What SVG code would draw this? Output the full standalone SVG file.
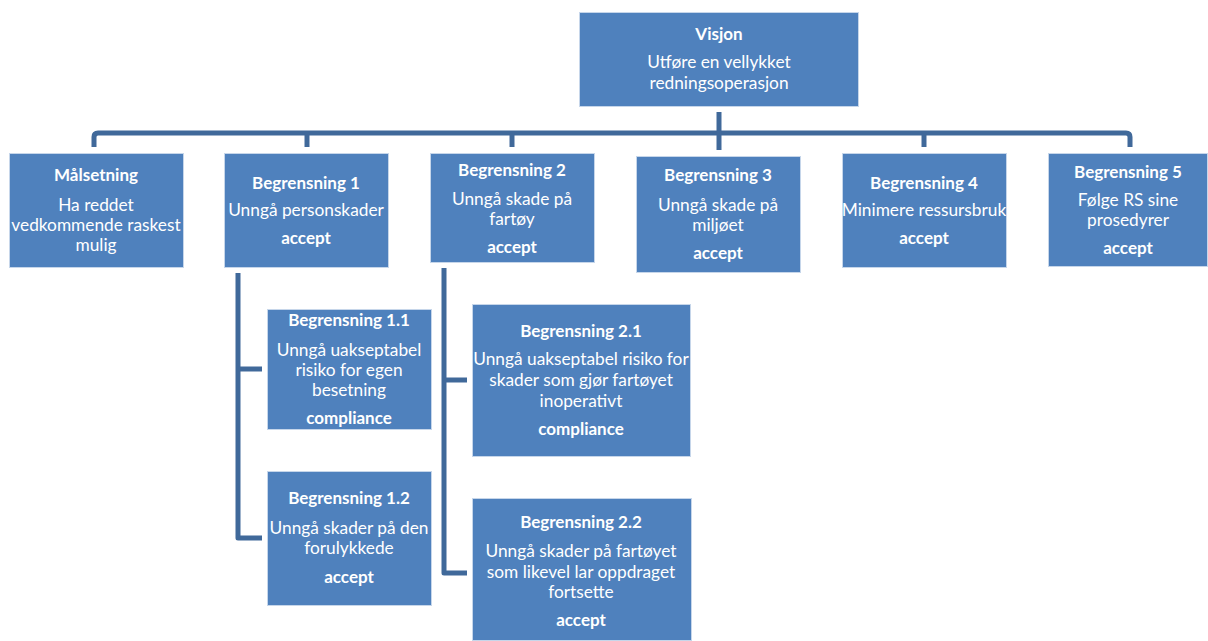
<svg xmlns="http://www.w3.org/2000/svg" width="1208" height="641" viewBox="0 0 1208 641">
  <style>
    .box { fill: #4F81BD; stroke: #C6D6EA; stroke-width: 1; }
    .t { font-family: Lato, "Liberation Sans", sans-serif; font-size: 17.3px; fill: #FFFFFF; text-anchor: middle; }
    .b { font-weight: bold; font-size: 17px; }
    .link { fill: none; stroke: #40699A; stroke-width: 5; stroke-linejoin: round; }
  </style>
  <rect width="1208" height="641" fill="#FFFFFF"/>

  <!-- connectors -->
  <g id="connectors">
    <path class="link" d="M94,147 V137 Q94,133 98,133 H1126 Q1130,133 1130,137 V147"/>
    <path class="link" d="M719,112 V150"/>
    <path class="link" d="M307,133 V147"/>
    <path class="link" d="M512,133 V147"/>
    <path class="link" d="M924,133 V147"/>
    <path class="link" d="M238,273 V538 H262"/>
    <path class="link" d="M238,369 H262"/>
    <path class="link" d="M444,268 V573 H467"/>
    <path class="link" d="M444,380 H467"/>
  </g>

  <g id="visjon">
    <rect class="box" x="579.500" y="12.500" width="279" height="94"/>
    <text class="t b" x="719" y="40">Visjon</text>
    <text class="t" x="719" y="68">Utføre en vellykket</text>
    <text class="t" x="719" y="89">redningsoperasjon</text>
  </g>

  <g id="malsetning">
    <rect class="box" x="9.500" y="153.500" width="174" height="114"/>
    <text class="t b" x="96" y="181">Målsetning</text>
    <text class="t" x="96" y="211">Ha reddet</text>
    <text class="t" x="96" y="231">vedkommende raskest</text>
    <text class="t" x="96" y="251">mulig</text>
  </g>

  <g id="begrensning-1">
    <rect class="box" x="224.500" y="153.500" width="164" height="114"/>
    <text class="t b" x="306" y="189">Begrensning 1</text>
    <text class="t" x="306" y="216">Unngå personskader</text>
    <text class="t b" x="306" y="244">accept</text>
  </g>

  <g id="begrensning-2">
    <rect class="box" x="430.500" y="153.500" width="164" height="109"/>
    <text class="t b" x="512" y="176">Begrensning 2</text>
    <text class="t" x="512" y="205">Unngå skade på</text>
    <text class="t" x="512" y="225">fartøy</text>
    <text class="t b" x="512" y="253">accept</text>
  </g>

  <g id="begrensning-3">
    <rect class="box" x="636.500" y="156.500" width="164" height="116"/>
    <text class="t b" x="718" y="181">Begrensning 3</text>
    <text class="t" x="718" y="211">Unngå skade på</text>
    <text class="t" x="718" y="231">miljøet</text>
    <text class="t b" x="718" y="259">accept</text>
  </g>

  <g id="begrensning-4">
    <rect class="box" x="842.500" y="153.500" width="164" height="114"/>
    <text class="t b" x="924" y="189">Begrensning 4</text>
    <text class="t" x="924" y="216">Minimere ressursbruk</text>
    <text class="t b" x="924" y="244">accept</text>
  </g>

  <g id="begrensning-5">
    <rect class="box" x="1048.500" y="153.500" width="159" height="113"/>
    <text class="t b" x="1128" y="178">Begrensning 5</text>
    <text class="t" x="1128" y="206">Følge RS sine</text>
    <text class="t" x="1128" y="226">prosedyrer</text>
    <text class="t b" x="1128" y="254">accept</text>
  </g>

  <g id="begrensning-1-1">
    <rect class="box" x="267.500" y="309.500" width="164" height="120"/>
    <text class="t b" x="349" y="326">Begrensning 1.1</text>
    <text class="t" x="349" y="356">Unngå uakseptabel</text>
    <text class="t" x="349" y="376">risiko for egen</text>
    <text class="t" x="349" y="396">besetning</text>
    <text class="t b" x="349" y="424">compliance</text>
  </g>

  <g id="begrensning-1-2">
    <rect class="box" x="267.500" y="471.500" width="164" height="134"/>
    <text class="t b" x="349" y="504">Begrensning 1.2</text>
    <text class="t" x="349" y="534">Unngå skader på den</text>
    <text class="t" x="349" y="554">forulykkede</text>
    <text class="t b" x="349" y="583">accept</text>
  </g>

  <g id="begrensning-2-1">
    <rect class="box" x="472.500" y="304.500" width="218" height="152"/>
    <text class="t b" x="581" y="337">Begrensning 2.1</text>
    <text class="t" x="581" y="365">Unngå uakseptabel risiko for</text>
    <text class="t" x="581" y="386">skader som gjør fartøyet</text>
    <text class="t" x="581" y="407">inoperativt</text>
    <text class="t b" x="581" y="435">compliance</text>
  </g>

  <g id="begrensning-2-2">
    <rect class="box" x="472.500" y="498.500" width="219" height="142"/>
    <text class="t b" x="581" y="528">Begrensning 2.2</text>
    <text class="t" x="581" y="557">Unngå skader på fartøyet</text>
    <text class="t" x="581" y="578">som likevel lar oppdraget</text>
    <text class="t" x="581" y="598">fortsette</text>
    <text class="t b" x="581" y="626">accept</text>
  </g>
</svg>
